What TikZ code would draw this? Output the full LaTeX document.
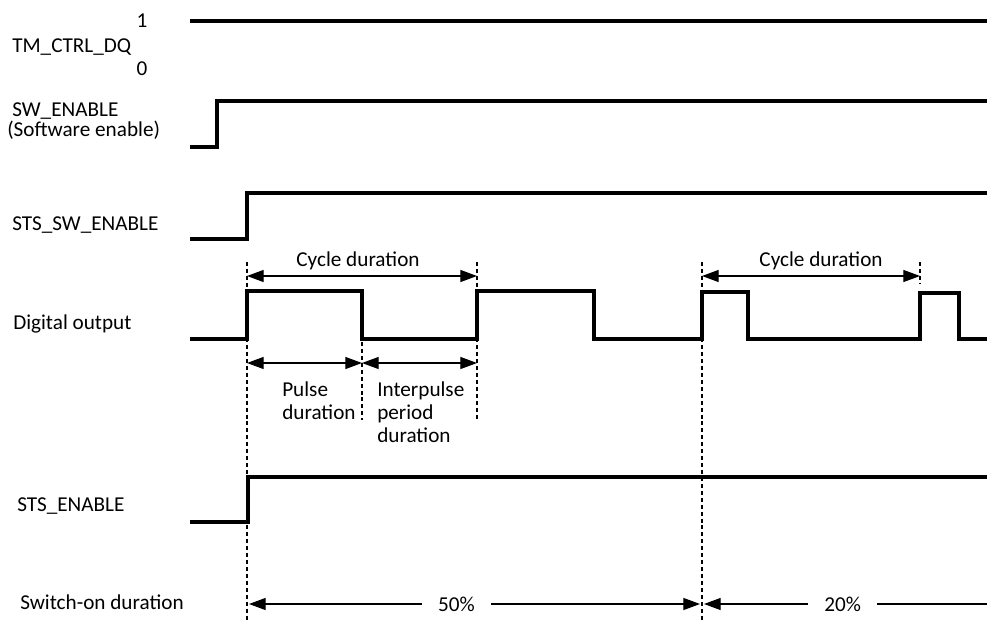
\documentclass[tikz,border=0pt]{standalone}
\usepackage{fontspec}
\setmainfont{Carlito}
\usetikzlibrary{arrows.meta}

\begin{document}
\begin{tikzpicture}[
  x=0.75pt, y=-0.75pt,
  every node/.style={inner sep=0pt, font=\fontsize{15.9}{16.9}\selectfont},
  lbl/.style={anchor=base west},
  val/.style={anchor=base},
  sig/.style={draw, line width=2.3pt, line join=miter},
  guide/.style={draw, line width=1.9pt, dash pattern=on 3pt off 2.2pt},
  dim/.style={draw, line width=0.9pt,
    {Triangle[length=12.5pt, width=9pt]}-{Triangle[length=12.5pt, width=9pt]}},
  diml/.style={draw, line width=0.9pt, {Triangle[length=12.5pt, width=9pt]}-},
  gap/.style={fill=white, inner xsep=12pt, inner ysep=2pt}]

  \useasboundingbox (0,0) rectangle (987,620);

  % ---- signal names -------------------------------------------------------
  \node[lbl] (dq)    at (12,53)  {TM\_CTRL\_DQ};
  \node[val] (one)   at (142,28) {1};
  \node[val] (zero)  at (142,76) {0};
  \node[lbl] (sw)    at (12,117) {SW\_ENABLE};
  \node[lbl] (swtxt) at (7,137)  {(Software enable)};
  \node[lbl] (stssw) at (12,230) {STS\_SW\_ENABLE};
  \node[lbl] (dout)  at (13,329) {Digital output};
  \node[lbl] (sts)   at (17,511) {STS\_ENABLE};
  \node[lbl] (son)   at (20,609) {Switch-on duration};

  % ---- signals ------------------------------------------------------------
  \draw[sig] (190,21) -- (987,21);
  \draw[sig] (190,147) -| (217,101) -- (987,101);
  \draw[sig] (190,239) -| (247,193) -- (987,193);
  \draw[sig] (190,339) -| (247,291) -| (362,339) -| (477,291) -| (594,339)
             -| (702,292) -| (748,339) -| (920,293) -| (959,339) -- (987,339);
  \draw[sig] (190,522) -| (248,477) -- (987,477);

  % ---- guide lines --------------------------------------------------------
  \coordinate (g0t) at (247,262);  \coordinate (g0b) at (247,620);
  \coordinate (g1t) at (362,342);  \coordinate (g1b) at (362,420);
  \coordinate (g2t) at (477,262);  \coordinate (g2b) at (477,420);
  \coordinate (g4t) at (702,262);  \coordinate (g4b) at (702,620);
  \coordinate (g6t) at (920,262);  \coordinate (g6b) at (920,284);
  \foreach \g in {g0,g1,g2,g4,g6}
    \draw[guide] (\g t) -- (\g b);

  % ---- durations ----------------------------------------------------------
  \coordinate (c0) at (247,276);  \coordinate (c2) at (477,276);
  \coordinate (c4) at (702,276);  \coordinate (c6) at (920,276);
  \coordinate (p0) at (247,363);  \coordinate (p1) at (362,363);
  \coordinate (p2) at (477,363);
  \coordinate (s0) at (249,604);  \coordinate (s4) at (700,604);
  \coordinate (s5) at (704,604);  \coordinate (s9) at (987,604);

  \draw[dim] (c0) -- (c2);
  \node[val] (cyc1) at (358,266) {Cycle duration};
  \draw[dim] (c4) -- (c6);
  \node[val] (cyc2) at (821,266) {Cycle duration};

  \draw[dim] (p0) -- (p1);
  \draw[dim] (p1) -- (p2);
  \node[lbl, align=left] (pul) at (282,419) {Pulse\\duration};
  \node[lbl, align=left] (ipp) at (377,442) {Interpulse\\period\\duration};

  \draw[dim]  (s0) -- node[gap, pos=0.46] (pc50) {50\%} (s4);
  \draw[diml] (s5) -- node[gap, pos=0.49] (pc20) {20\%} (s9);
\end{tikzpicture}
\end{document}
